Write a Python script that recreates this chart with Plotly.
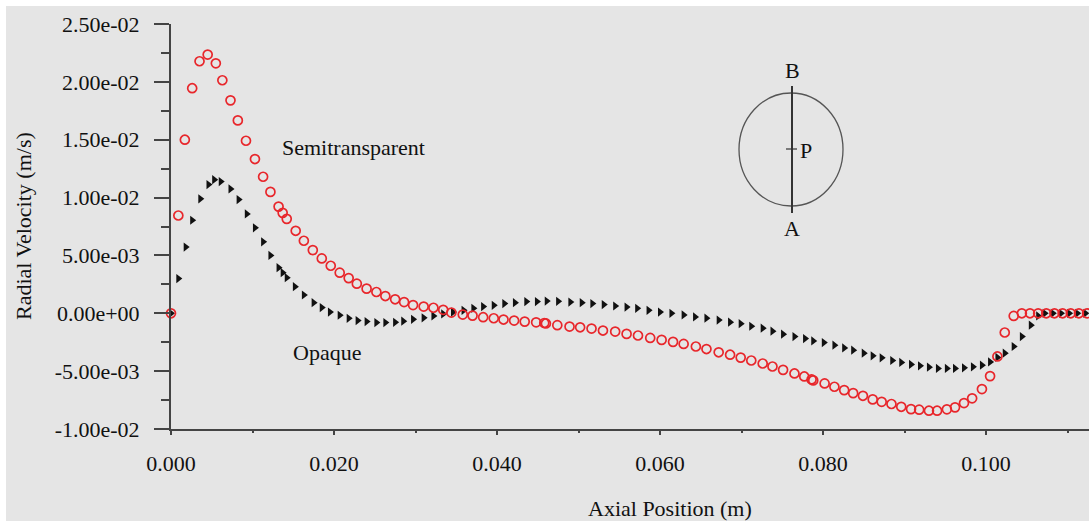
import plotly.graph_objects as go

# ---------------- data ----------------
x_semi = [0.0, 0.0009, 0.0017, 0.0026, 0.0035, 0.0045, 0.0055, 0.0063, 0.0073, 0.0082,
          0.0092, 0.0103, 0.0113, 0.0122, 0.0132, 0.0137, 0.0142, 0.0153, 0.0163, 0.0174,
          0.0185, 0.0196, 0.0207, 0.0218, 0.0228, 0.0240, 0.0252, 0.0263, 0.0275, 0.0286,
          0.0297, 0.0310, 0.0322, 0.0334, 0.0344, 0.0358, 0.0370, 0.0383, 0.0396, 0.0408,
          0.0421, 0.0434, 0.0448, 0.0458, 0.0460, 0.0474, 0.0489, 0.0502, 0.0516, 0.0530,
          0.0545, 0.0559, 0.0573, 0.0588, 0.0602, 0.0616, 0.0629, 0.0644, 0.0657, 0.0672,
          0.0686, 0.0699, 0.0712, 0.0726, 0.0738, 0.0751, 0.0765, 0.0777, 0.0786, 0.0788,
          0.0802, 0.0814, 0.0826, 0.0837, 0.0849, 0.0861, 0.0872, 0.0884, 0.0896, 0.0908,
          0.0918, 0.0930, 0.0940, 0.0952, 0.0962, 0.0973, 0.0983, 0.0995, 0.1005, 0.1014,
          0.1023, 0.1034, 0.1044, 0.1054, 0.1064, 0.1074, 0.1084, 0.1094, 0.1104, 0.1114,
          0.1124]
y_semi = [0.0, 0.00845, 0.0150, 0.01945, 0.02178, 0.02236, 0.0216, 0.02014, 0.0184, 0.01667,
          0.01491, 0.01333, 0.0118, 0.01049, 0.00922, 0.00868, 0.00816, 0.00713, 0.00627, 0.00546,
          0.00474, 0.00411, 0.00351, 0.00304, 0.00256, 0.00213, 0.00184, 0.00149, 0.00121, 0.00097,
          0.00071, 0.00058, 0.00048, 0.00030, 0.00006, -0.00011, -0.00020, -0.00034, -0.00043, -0.00054,
          -0.00063, -0.00072, -0.00078, -0.00084, -0.00088, -0.00103, -0.00115, -0.00121, -0.00132, -0.00149,
          -0.00158, -0.00178, -0.00192, -0.00213, -0.00230, -0.00247, -0.00265, -0.00287, -0.00309, -0.00337,
          -0.00358, -0.00383, -0.00408, -0.00434, -0.00460, -0.00489, -0.00520, -0.00546, -0.00572, -0.00580,
          -0.00606, -0.00635, -0.00664, -0.00690, -0.00713, -0.00744, -0.00765, -0.00784, -0.00808, -0.00828,
          -0.00833, -0.00842, -0.00842, -0.00830, -0.00813, -0.00776, -0.00735, -0.00655, -0.00543, -0.00373,
          -0.00166, -0.00023, 0.0, 0.0, 0.0, 0.0, 0.0, 0.0, 0.0, 0.0,
          0.0]

x_opaq = [0.0, 0.0009, 0.0018, 0.0026, 0.0036, 0.0046, 0.0053, 0.0061, 0.0073, 0.0083,
          0.0093, 0.0103, 0.0113, 0.0122, 0.0132, 0.0137, 0.0142, 0.0152, 0.0163, 0.0175,
          0.0185, 0.0195, 0.0207, 0.0218, 0.0229, 0.0240, 0.0252, 0.0263, 0.0275, 0.0285,
          0.0297, 0.0310, 0.0322, 0.0334, 0.0346, 0.0359, 0.0371, 0.0383, 0.0396, 0.0409,
          0.0422, 0.0436, 0.0449, 0.0461, 0.0475, 0.0490, 0.0504, 0.0517, 0.0531, 0.0545,
          0.0559, 0.0572, 0.0586, 0.0600, 0.0614, 0.0629, 0.0643, 0.0657, 0.0672, 0.0686,
          0.0699, 0.0712, 0.0726, 0.0738, 0.0751, 0.0765, 0.0778, 0.0788, 0.0801, 0.0814,
          0.0826, 0.0837, 0.0850, 0.0861, 0.0872, 0.0885, 0.0896, 0.0908, 0.0919, 0.0930,
          0.0941, 0.0952, 0.0962, 0.0973, 0.0984, 0.0995, 0.1005, 0.1014, 0.1023, 0.1034,
          0.1044, 0.1055, 0.1064, 0.1072, 0.1082, 0.1092, 0.1102, 0.1112, 0.1122]
y_opaq = [0.0, 0.0030, 0.00572, 0.00804, 0.00989, 0.01112, 0.01155, 0.01138, 0.01075, 0.00983,
          0.00859, 0.00739, 0.00618, 0.0050, 0.00394, 0.00351, 0.00308, 0.0023, 0.00158, 0.00092,
          0.00049, 0.00011, -0.00017, -0.00043, -0.00063, -0.00072, -0.0008, -0.0008, -0.00078, -0.00068,
          -0.00052, -0.00039, -0.00023, -0.00006, 0.00011, 0.00026, 0.00043, 0.00058, 0.00069, 0.00084,
          0.00092, 0.00101, 0.00101, 0.00106, 0.00103, 0.00097, 0.00092, 0.00084, 0.00075, 0.00063,
          0.00054, 0.00043, 0.00026, 0.00011, 0.0, -0.00014, -0.00032, -0.00042, -0.00059, -0.00077,
          -0.0009, -0.00112, -0.00129, -0.00155, -0.00181, -0.00201, -0.00218, -0.00239, -0.00253, -0.00276,
          -0.00299, -0.00319, -0.00345, -0.00368, -0.00385, -0.00408, -0.00425, -0.00442, -0.00454, -0.00466,
          -0.00477, -0.00477, -0.00477, -0.00471, -0.00463, -0.00448, -0.0042, -0.00382, -0.00345, -0.00287,
          -0.00201, -0.00103, -0.00023, 0.0, 0.0, 0.0, 0.0, 0.0, 0.0]

x_tickvals = [0.0, 0.02, 0.04, 0.06, 0.08, 0.10]
x_ticktext = ["0.000", "0.020", "0.040", "0.060", "0.080", "0.100"]
y_tickvals = [-0.01, -0.005, 0.0, 0.005, 0.01, 0.015, 0.02, 0.025]
y_ticktext = ["-1.00e-02", "-5.00e-03", "0.00e+00", "5.00e-03", "1.00e-02",
              "1.50e-02", "2.00e-02", "2.50e-02"]

# ---------------- figure ----------------
W, H = 1089, 522
ML, MR, MT, MB = 171, 0, 24, 93
PW, PH = W - ML - MR, H - MT - MB
BG = "#e5e5e5"
AX = "#444444"
FONT = "Liberation Serif"


def px(xp):
    return (xp - ML) / PW


def py(yp):
    return (H - MB - yp) / PH


fig = go.Figure()
fig.add_trace(go.Scatter(
    x=x_opaq, y=y_opaq, mode="markers", name="Opaque", cliponaxis=False,
    marker=dict(symbol="triangle-right", size=8, color="#111111", line=dict(width=0)),
))
fig.add_trace(go.Scatter(
    x=x_semi, y=y_semi, mode="markers", name="Semitransparent", cliponaxis=False,
    marker=dict(symbol="circle-open", size=9, color="#e8262b", line=dict(width=1.7, color="#e8262b")),
))

axis_font = dict(family=FONT, size=22, color="#111111")

fig.update_xaxes(
    range=[0, (PW) * 0.02 / 163], showgrid=False, zeroline=False,
    showline=True, linecolor=AX, linewidth=2,
    tickmode="array", tickvals=x_tickvals, ticktext=x_ticktext,
    ticks="outside", ticklen=4, tickwidth=2, tickcolor=AX,
    ticklabelstandoff=10, tickfont=axis_font,
    minor=dict(tickvals=[0.01, 0.03, 0.05, 0.07, 0.09, 0.11], ticks="outside",
               ticklen=2, tickwidth=2, tickcolor=AX),
)
fig.update_yaxes(
    range=[-0.01, 0.025], showgrid=False, zeroline=False,
    showline=True, linecolor=AX, linewidth=2,
    tickmode="array", tickvals=y_tickvals, ticktext=y_ticktext,
    ticks="outside", ticklen=15, tickwidth=2, tickcolor=AX,
    ticklabelstandoff=10, tickfont=axis_font,
    minor=dict(tickvals=[-0.0075, -0.0025, 0.0025, 0.0075, 0.0125, 0.0175, 0.0225],
               ticks="outside", ticklen=8, tickwidth=2, tickcolor=AX),
)

shapes = [
    # white border strips around the gray page
    dict(type="rect", xref="paper", yref="paper", x0=px(0), x1=1.0, y0=py(6), y1=py(0),
         fillcolor="white", line=dict(width=0), layer="below"),
    dict(type="rect", xref="paper", yref="paper", x0=px(0), x1=px(6), y0=py(H), y1=py(0),
         fillcolor="white", line=dict(width=0), layer="below"),
    dict(type="rect", xref="paper", yref="paper", x0=px(0), x1=1.0, y0=py(H), y1=py(521),
         fillcolor="white", line=dict(width=0), layer="below"),
    # inset diagram
    dict(type="circle", xref="paper", yref="paper", x0=px(739), x1=px(843), y0=py(206), y1=py(93),
         line=dict(color="#555555", width=1.3)),
    dict(type="line", xref="paper", yref="paper", x0=px(792), x1=px(792), y0=py(213), y1=py(86),
         line=dict(color="#333333", width=2)),
    dict(type="line", xref="paper", yref="paper", x0=px(786), x1=px(797), y0=py(149), y1=py(149),
         line=dict(color="#333333", width=1.2)),
]

txt = dict(family=FONT, size=22, color="#111111")
annotations = [
    dict(text="Semitransparent", x=px(353), y=py(147), xref="paper", yref="paper",
         showarrow=False, font=txt, xanchor="center", yanchor="middle"),
    dict(text="Opaque", x=px(327), y=py(352), xref="paper", yref="paper",
         showarrow=False, font=txt, xanchor="center", yanchor="middle"),
    dict(text="B", x=px(792), y=py(70), xref="paper", yref="paper",
         showarrow=False, font=txt, xanchor="center", yanchor="middle"),
    dict(text="A", x=px(792), y=py(228), xref="paper", yref="paper",
         showarrow=False, font=txt, xanchor="center", yanchor="middle"),
    dict(text="P", x=px(806), y=py(150), xref="paper", yref="paper",
         showarrow=False, font=txt, xanchor="center", yanchor="middle"),
    dict(text="Axial Position (m)", x=px(670), y=py(508), xref="paper", yref="paper",
         showarrow=False, font=txt, xanchor="center", yanchor="middle"),
    dict(text="Radial Velocity (m/s)", x=px(23), y=py(226), xref="paper", yref="paper",
         showarrow=False, font=txt, xanchor="center", yanchor="middle", textangle=-90),
]

fig.update_layout(
    width=W, height=H, margin=dict(l=ML, r=MR, t=MT, b=MB, pad=0),
    paper_bgcolor=BG, plot_bgcolor=BG, showlegend=False,
    shapes=shapes, annotations=annotations,
    font=dict(family=FONT, color="#111111"),
)

fig.write_html("out.html")
